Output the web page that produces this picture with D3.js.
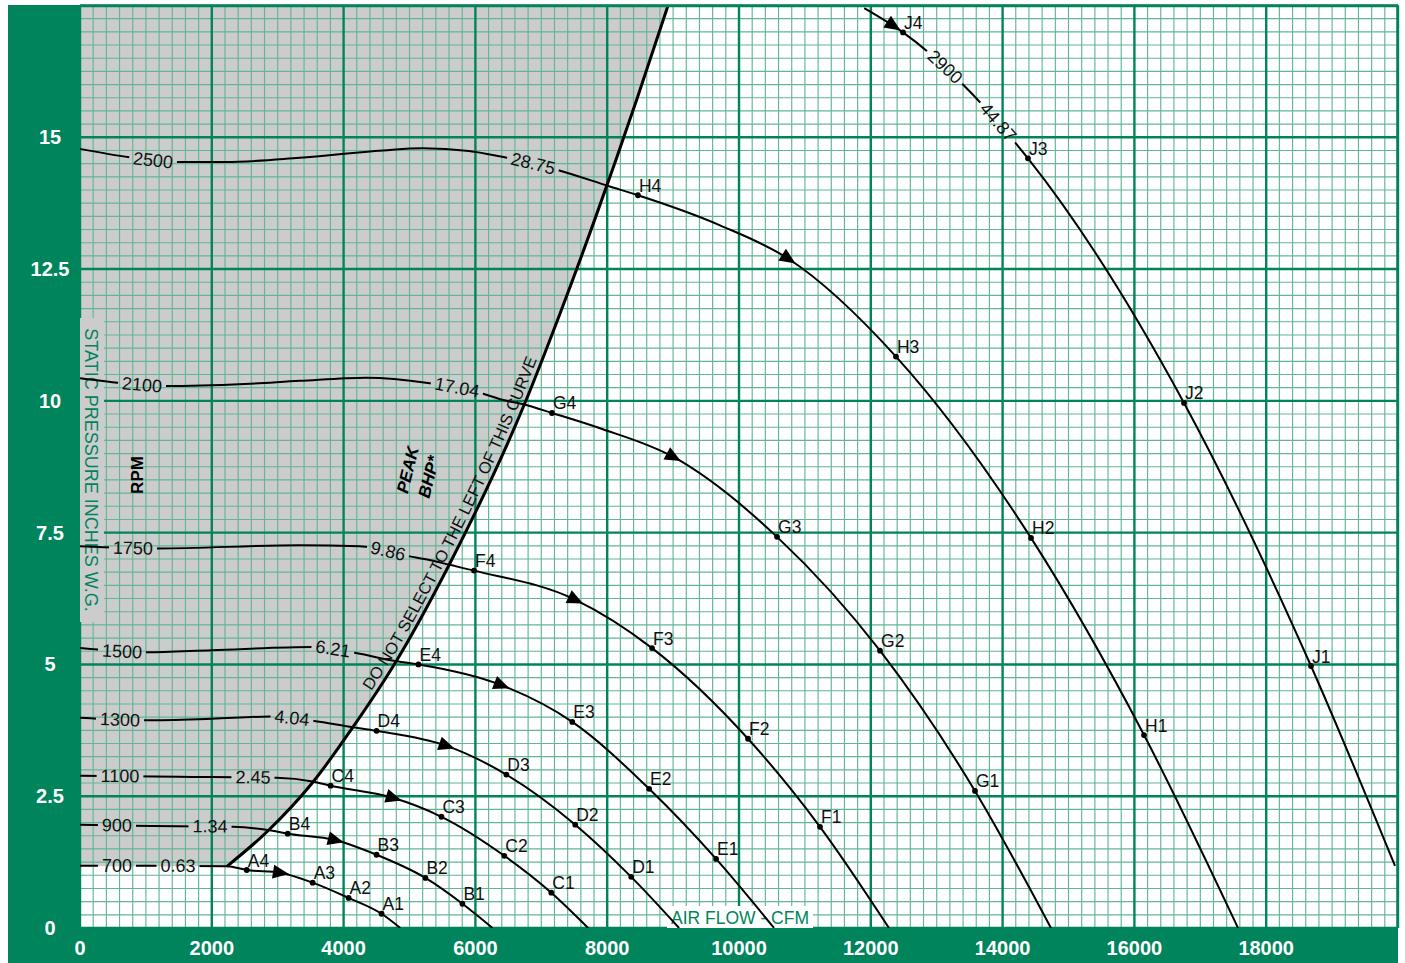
<!DOCTYPE html>
<html><head><meta charset="utf-8">
<script src="https://cdn.jsdelivr.net/npm/d3@7"></script>
<style>html,body{margin:0;padding:0;background:#fff}svg{display:block}</style>
</head><body>
<svg id="c" width="1405" height="963"></svg>
<script>
// ---------------- DATA ----------------
const xTicks = [0, 2000, 4000, 6000, 8000, 10000, 12000, 14000, 16000, 18000];
const yTicks = [0, 2.5, 5, 7.5, 10, 12.5, 15];
const yTickLabels = ["0", "2.5", "5", "7.5", "10", "12.5", "15"];

const curveIds   = ["A", "B", "C", "D", "E", "F", "G", "H", "J"];
const rpmLabels  = ["700", "900", "1100", "1300", "1500", "1750", "2100", "2500", "2900"];
const bhpLabels  = ["0.63", "1.34", "2.45", "4.04", "6.21", "9.86", "17.04", "28.75", "44.87"];
const rpmLabelCfm = [561, 561, 607, 607, 637, 804, 941, 1108, 13126];
const bhpLabelCfm = [1487, 1973, 2625, 3217, 3839, 4674, 5721, 6874, 13930];
const arrowCfm    = [3035, 3869, 4750, 5554, 6389, 7511, 8998, 10744, 12337];

// curve readings (CFM, in. w.g.) other than the rated points
const shapeA = [[0,1.18],[1000,1.18],[2230,1.17],[3035,1.05],[4860,0]];
const shapeB = [[0,1.96],[800,1.94],[2318,1.92],[2850,1.86],[3869,1.67],[6260,0]];
const shapeC = [[0,2.89],[1500,2.87],[2985,2.85],[3530,2.78],[4750,2.47],[7712,0]];
const shapeD = [[0,3.99],[1000,3.94],[2000,3.97],[2880,4.01],[3530,3.93],[4136,3.81],[5554,3.46],[9091,0]];
const shapeE = [[0,5.31],[1000,5.23],[2000,5.27],[3530,5.33],[4167,5.22],[4803,5.06],[6389,4.61],[10531,0]];
const shapeF = [[0,7.24],[1167,7.20],[3333,7.26],[4242,7.24],[5000,7.05],[5303,6.98],[5606,6.89],[7511,6.23],[12276,0]];
const shapeG = [[0,10.43],[700,10.33],[1300,10.28],[2500,10.32],[3333,10.38],[4343,10.44],[5280,10.34],[6106,10.14],[6409,10.02],[6742,9.93],[7891,9.48],[8998,8.94],[14734,0]];
const shapeH = [[0,14.78],[750,14.62],[1500,14.53],[2200,14.53],[3333,14.61],[4600,14.75],[5200,14.79],[5900,14.74],[6364,14.64],[7273,14.37],[8030,14.07],[9712,13.33],[10744,12.70],[17572,0]];
const shapeJ = [[11900,17.45],[19954,1.18]];

// rated points 1..4 on each curve (CFM, in. w.g.)
const pointsA = [[4576,0.27],[4076,0.57],[3530,0.86],[2530,1.10]];
const pointsB = [[5803,0.46],[5242,0.95],[4500,1.39],[3152,1.79]];
const pointsC = [[7152,0.67],[6439,1.37],[5485,2.11],[3803,2.70]];
const pointsD = [[8364,0.97],[7515,1.96],[6470,2.91],[4500,3.74]];
const pointsE = [[9652,1.31],[8636,2.64],[7470,3.91],[5136,5.00]];
const pointsF = [[11229,1.92],[10137,3.59],[8680,5.31],[5979,6.78]];
const pointsG = [[13581,2.60],[12140,5.26],[10577,7.42],[7162,9.77]];
const pointsH = [[16146,3.66],[14431,7.40],[12382,10.84],[8467,13.90]];
const pointsJ = [[18680,4.97],[16753,9.96],[14385,14.60],[12489,16.99]];

// peak BHP boundary ("do not select to the left of this curve")
const peakBoundary = [[2230,1.17],[2850,1.84],[3530,2.76],[4136,3.80],[4803,5.07],[5606,6.90],[6742,9.93],[7273,11.62],[7800,13.40],[8450,15.72],[8923,17.5]];

const shapes = [shapeA, shapeB, shapeC, shapeD, shapeE, shapeF, shapeG, shapeH, shapeJ];
const points = [pointsA, pointsB, pointsC, pointsD, pointsE, pointsF, pointsG, pointsH, pointsJ];

// ---------------- DRAW ----------------
const W = 1405, H = 963;
const GREEN = "#00845b";
const MINOR = "#62b596";
const FONT = "'Liberation Sans', Arial, Helvetica, sans-serif";
const svg = d3.select("#c");
const x = d3.scaleLinear().domain([0, 20000]).range([80, 1398]);
const y = d3.scaleLinear().domain([0, 17.5]).range([928, 5.5]);
const line = d3.line().x(d => x(d[0])).y(d => y(d[1])).curve(d3.curveMonotoneX);

svg.append("rect").attr("width", W).attr("height", H).attr("fill", "#fff");
const defs = svg.append("defs");

// gray region
const bD = line(peakBoundary);
svg.append("path")
  .attr("d", bD + `L${x(0)},${y(17.5)}L${x(0)},${y(peakBoundary[0][1])}Z`)
  .attr("fill", "#cccccc");

// grid
const grid = svg.append("g");
const minorX = d3.range(0, 20001, 200).filter(v => v % 2000 !== 0);
const majorX = d3.range(0, 20001, 2000);
const minorY = d3.range(0, 17.51, 0.25).filter(v => Math.abs(v / 2.5 - Math.round(v / 2.5)) > 1e-6);
const majorY = d3.range(0, 17.51, 2.5);
grid.selectAll(".mx").data(minorX).join("line")
  .attr("x1", d => x(d)).attr("x2", d => x(d)).attr("y1", y(0)).attr("y2", y(17.5))
  .attr("stroke", MINOR).attr("stroke-width", 1.15);
grid.selectAll(".my").data(minorY).join("line")
  .attr("y1", d => y(d)).attr("y2", d => y(d)).attr("x1", x(0)).attr("x2", x(20000))
  .attr("stroke", MINOR).attr("stroke-width", 1.15);
grid.selectAll(".Mx").data(majorX).join("line")
  .attr("x1", d => x(d)).attr("x2", d => x(d)).attr("y1", y(0)).attr("y2", y(17.5))
  .attr("stroke", GREEN).attr("stroke-width", 2.4);
grid.selectAll(".My").data(majorY).join("line")
  .attr("y1", d => y(d)).attr("y2", d => y(d)).attr("x1", x(0)).attr("x2", x(20000))
  .attr("stroke", GREEN).attr("stroke-width", 2.4);

// axis titles inside plot
svg.append("rect").attr("x", 80).attr("y", 318).attr("width", 24).attr("height", 304).attr("fill", "#cccccc");
svg.append("text").attr("transform", "translate(91,470) rotate(90)")
  .attr("text-anchor", "middle").attr("dominant-baseline", "central")
  .attr("font-family", FONT).attr("font-size", 18).attr("fill", GREEN)
  .text("STATIC PRESSURE INCHES W.G.");
svg.append("rect").attr("x", 667).attr("y", 906).attr("width", 146).attr("height", 22).attr("fill", "#fff");
svg.append("text").attr("x", 740).attr("y", 924).attr("text-anchor", "middle")
  .attr("font-family", FONT).attr("font-size", 17.5).attr("fill", GREEN)
  .text("AIR FLOW - CFM");

// RPM / PEAK BHP headings
svg.append("text").attr("transform", "translate(137,475) rotate(-90)")
  .attr("text-anchor", "middle").attr("dominant-baseline", "central")
  .attr("font-family", FONT).attr("font-size", 17).attr("font-weight", "bold")
  .text("RPM");
svg.append("text").attr("transform", "translate(408,470) rotate(-76)")
  .attr("text-anchor", "middle").attr("dominant-baseline", "central")
  .attr("font-family", FONT).attr("font-size", 17).attr("font-weight", "bold").attr("font-style", "italic")
  .text("PEAK");
svg.append("text").attr("transform", "translate(429,477) rotate(-76)")
  .attr("text-anchor", "middle").attr("dominant-baseline", "central")
  .attr("font-family", FONT).attr("font-size", 17).attr("font-weight", "bold").attr("font-style", "italic")
  .text("BHP*");

// mask for label gaps
const mask = defs.append("mask").attr("id", "gap").attr("maskUnits", "userSpaceOnUse")
  .attr("x", 0).attr("y", 0).attr("width", W).attr("height", H);
mask.append("rect").attr("width", W).attr("height", H).attr("fill", "#fff");

// boundary
const bPath = svg.append("path").attr("id", "bnd").attr("d", bD)
  .attr("fill", "none").attr("stroke", "#000").attr("stroke-width", 3);

// fan curves
const curvesG = svg.append("g").attr("mask", "url(#gap)");
const paths = curveIds.map((id, i) => {
  const data = shapes[i].concat(points[i]).sort((a, b) => a[0] - b[0]);
  return curvesG.append("path").attr("d", line(data))
    .attr("fill", "none").attr("stroke", "#000").attr("stroke-width", 2).node();
});

function atX(node, px) {
  let lo = 0, hi = node.getTotalLength();
  for (let k = 0; k < 40; k++) {
    const mid = (lo + hi) / 2;
    if (node.getPointAtLength(mid).x < px) lo = mid; else hi = mid;
  }
  return (lo + hi) / 2;
}
function angleAt(node, l, d) {
  const L = node.getTotalLength();
  const a = node.getPointAtLength(Math.max(0, l - d)), b = node.getPointAtLength(Math.min(L, l + d));
  return Math.atan2(b.y - a.y, b.x - a.x) * 180 / Math.PI;
}

const labelsG = svg.append("g");
function inlineLabel(node, cfm, txt, span) {
  const l = atX(node, x(cfm));
  const p = node.getPointAtLength(l);
  const a = angleAt(node, l, span);
  const tr = `translate(${p.x},${p.y}) rotate(${a})`;
  const t = labelsG.append("text").attr("transform", tr)
    .attr("text-anchor", "middle").attr("dominant-baseline", "central")
    .attr("font-family", FONT).attr("font-size", 18).attr("fill", "#111").text(txt);
  const bb = t.node().getBBox();
  mask.append("rect").attr("transform", tr)
    .attr("x", bb.x - 4).attr("y", bb.y).attr("width", bb.width + 8).attr("height", bb.height)
    .attr("fill", "#000");
}
curveIds.forEach((id, i) => {
  inlineLabel(paths[i], rpmLabelCfm[i], rpmLabels[i], 12);
  inlineLabel(paths[i], bhpLabelCfm[i], bhpLabels[i], 12);
});

// arrows
curveIds.forEach((id, i) => {
  const node = paths[i];
  const l = atX(node, x(arrowCfm[i]));
  const p = node.getPointAtLength(l);
  const a = angleAt(node, l, 4);
  svg.append("path").attr("d", "M9,0L-7,-7L-7,7Z")
    .attr("transform", `translate(${p.x},${p.y}) rotate(${a})`).attr("fill", "#000");
});

// rated points
curveIds.forEach((id, i) => {
  points[i].forEach((pt, j) => {
    const cx = x(pt[0]), cy = y(pt[1]);
    svg.append("circle").attr("cx", cx).attr("cy", cy).attr("r", 2.9).attr("fill", "#000");
    svg.append("text").attr("x", cx + 1).attr("y", cy - 3.5)
      .attr("font-family", FONT).attr("font-size", 17.5).attr("fill", "#111")
      .text(id + (j + 1));
  });
});

// text along boundary
const bn = bPath.node();
(function () {
  let lo = 0, hi = bn.getTotalLength();
  for (let k = 0; k < 40; k++) {
    const mid = (lo + hi) / 2;
    if (bn.getPointAtLength(mid).y > 694) lo = mid; else hi = mid;
  }
  svg.append("text").attr("font-family", FONT).attr("font-size", 16.5).attr("fill", "#111").attr("dy", -5)
    .append("textPath").attr("href", "#bnd").attr("startOffset", (lo + hi) / 2)
    .text("DO NOT SELECT TO THE LEFT OF THIS CURVE");
})();

// frame
svg.append("rect").attr("x", 8).attr("y", 5).attr("width", 72).attr("height", H - 5).attr("fill", GREEN);
svg.append("rect").attr("x", 8).attr("y", 928).attr("width", 1390).attr("height", H - 928).attr("fill", GREEN);
svg.append("line").attr("x1", 80).attr("x2", 1398).attr("y1", 6).attr("y2", 6).attr("stroke", GREEN).attr("stroke-width", 2.5);
svg.append("line").attr("x1", 1397.5).attr("x2", 1397.5).attr("y1", 5).attr("y2", 928).attr("stroke", GREEN).attr("stroke-width", 2.5);

// tick labels
svg.selectAll(".xt").data(xTicks).join("text")
  .attr("x", d => x(d)).attr("y", 955).attr("text-anchor", "middle")
  .attr("font-family", FONT).attr("font-size", 20).attr("font-weight", "bold").attr("fill", "#fff")
  .text(d => d);
svg.selectAll(".yt").data(yTicks).join("text")
  .attr("x", 50).attr("y", d => y(d)).attr("text-anchor", "middle").attr("dominant-baseline", "central")
  .attr("font-family", FONT).attr("font-size", 20).attr("font-weight", "bold").attr("fill", "#fff")
  .text((d, i) => yTickLabels[i]);
</script>
</body></html>
